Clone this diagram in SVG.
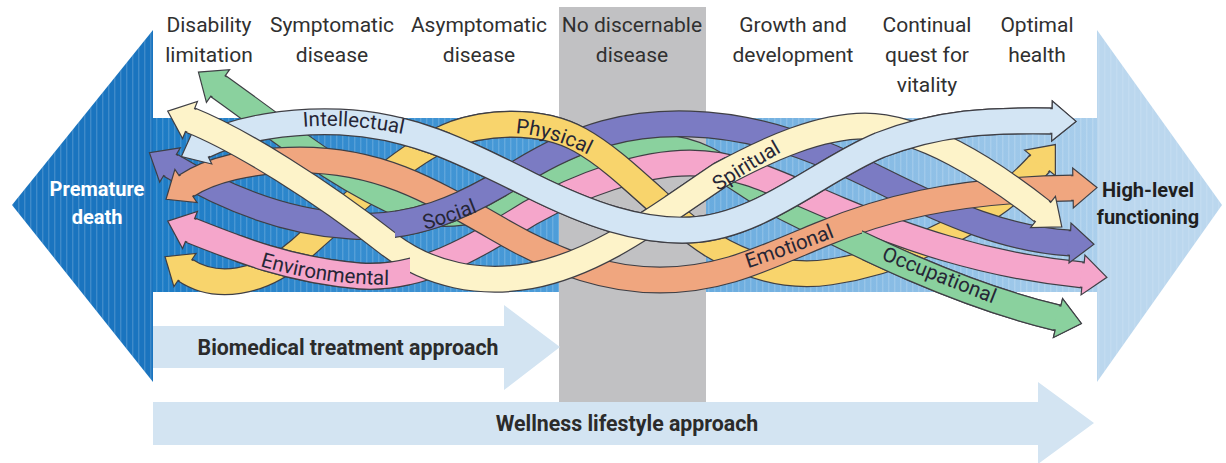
<svg xmlns="http://www.w3.org/2000/svg" xmlns:xlink="http://www.w3.org/1999/xlink" width="1226" height="463" viewBox="0 0 1226 463">
<style>
.stage{font-family:Roboto,"Liberation Sans",sans-serif;font-size:21px;fill:#303030;text-anchor:middle}
.endl{font-family:Roboto,"Liberation Sans",sans-serif;font-size:20px;font-weight:bold;text-anchor:middle}
.appr{font-family:Roboto,"Liberation Sans",sans-serif;font-size:21.3px;font-weight:bold;fill:#2b2b2b;text-anchor:middle}
.rl{font-family:Roboto,"Liberation Sans",sans-serif;font-size:20.5px;fill:#262636;text-anchor:middle}
.ol{fill:none;stroke:#3f3f45;stroke-width:27}
.fl{fill:none;stroke-width:24.6}
.ah{stroke:#3f3f45;stroke-width:1.2;stroke-linejoin:miter}
.apbar{fill:#d3e4f2}
</style>
<defs>
<linearGradient id="bandg" gradientUnits="userSpaceOnUse" x1="153" y1="0" x2="1100" y2="0">
<stop offset="0" stop-color="#1c7bc5"/>
<stop offset="0.4" stop-color="#4a9bd8"/>
<stop offset="0.72" stop-color="#7fb7e3"/>
<stop offset="1" stop-color="#abcfec"/>
</linearGradient>
<pattern id="stripes" patternUnits="userSpaceOnUse" width="6" height="10">
<rect x="0" y="0" width="1.4" height="10" fill="#ffffff" fill-opacity="0.16"/>
</pattern>
<marker id="mk-y" markerUnits="userSpaceOnUse" orient="auto-start-reverse" overflow="visible" markerWidth="1" markerHeight="1"><path class="ah" d="M-2,-12.3 L0,-12.3 L0,-20 L24,0 L0,20 L0,12.3 L-2,12.3" fill="#f8d46c"/></marker>
<marker id="mk-g" markerUnits="userSpaceOnUse" orient="auto-start-reverse" overflow="visible" markerWidth="1" markerHeight="1"><path class="ah" d="M-2,-12.3 L0,-12.3 L0,-20 L24,0 L0,20 L0,12.3 L-2,12.3" fill="#8ad19e"/></marker>
<marker id="mk-p" markerUnits="userSpaceOnUse" orient="auto-start-reverse" overflow="visible" markerWidth="1" markerHeight="1"><path class="ah" d="M-2,-12.3 L0,-12.3 L0,-20 L24,0 L0,20 L0,12.3 L-2,12.3" fill="#7b7bc3"/></marker>
<marker id="mk-o" markerUnits="userSpaceOnUse" orient="auto-start-reverse" overflow="visible" markerWidth="1" markerHeight="1"><path class="ah" d="M-2,-12.3 L0,-12.3 L0,-20 L24,0 L0,20 L0,12.3 L-2,12.3" fill="#f0a67f"/></marker>
<marker id="mk-k" markerUnits="userSpaceOnUse" orient="auto-start-reverse" overflow="visible" markerWidth="1" markerHeight="1"><path class="ah" d="M-2,-12.3 L0,-12.3 L0,-20 L24,0 L0,20 L0,12.3 L-2,12.3" fill="#f5a6cb"/></marker>
<marker id="mk-c" markerUnits="userSpaceOnUse" orient="auto-start-reverse" overflow="visible" markerWidth="1" markerHeight="1"><path class="ah" d="M-2,-12.3 L0,-12.3 L0,-20 L24,0 L0,20 L0,12.3 L-2,12.3" fill="#fdf3c9"/></marker>
<marker id="mk-b" markerUnits="userSpaceOnUse" orient="auto-start-reverse" overflow="visible" markerWidth="1" markerHeight="1"><path class="ah" d="M-2,-12.3 L0,-12.3 L0,-20 L24,0 L0,20 L0,12.3 L-2,12.3" fill="#d3e5f4"/></marker>
<clipPath id="c-phys"><rect x="450" y="95" width="215" height="150"/></clipPath>
<clipPath id="c-cream"><rect x="615" y="140" width="110" height="100"/></clipPath>
<clipPath id="c-soc"><rect x="395" y="178" width="112" height="70"/></clipPath>
<clipPath id="c-env"><rect x="235" y="235" width="175" height="65"/></clipPath>
<clipPath id="c-occ"><rect x="862" y="228" width="230" height="115"/></clipPath>
<clipPath id="c-int"><rect x="400" y="0" width="826" height="463"/></clipPath>
<path id="lp-int" d="M 290,128 Q 350,121 416,137"/>
<path id="lp-phys" d="M 500,133 Q 548,131 602,162"/>
<path id="lp-soc" d="M 408,234 Q 450,224 494,205"/>
<path id="lp-spi" d="M 703,202 Q 745,172 798,143"/>
<path id="lp-emo" d="M 736,272 Q 790,255 847,232"/>
<path id="lp-env" d="M 248,262 Q 318,286 402,285"/>
<path id="lp-occ" d="M 870,255 Q 930,279 1004,308"/>
</defs>

<g id="continuum">
<polygon points="153,30 12,205 153,382" fill="#1a74bf"/>
<rect x="153" y="118" width="945" height="174" fill="url(#bandg)"/>
<polygon points="1097,30 1222,205 1097,382" fill="#bbd7ee"/>
<polygon points="153,30 12,205 153,382" fill="url(#stripes)"/>
<rect x="153" y="118" width="945" height="174" fill="url(#stripes)"/>
<polygon points="1097,30 1222,205 1097,382" fill="url(#stripes)" opacity="0.6"/>
</g>

<rect id="no-disease-bar" x="559" y="7" width="147" height="395" fill="#c1c1c3"/>

<g id="biomedical-approach">
<polygon class="apbar" points="153,326 504,326 504,305 560,347 504,390 504,368 153,368"/>
<text class="appr" x="348" y="355">Biomedical treatment approach</text>
</g>
<g id="wellness-approach">
<polygon class="apbar" points="153,402 1038,402 1038,382 1094,423 1038,464 1038,445 153,445"/>
<text class="appr" x="627" y="431">Wellness lifestyle approach</text>
</g>

<g id="stage-labels">
<g id="stage-disability"><text class="stage" x="209" y="32">Disability</text><text class="stage" x="209" y="62">limitation</text></g>
<g id="stage-symptomatic"><text class="stage" x="332" y="32">Symptomatic</text><text class="stage" x="332" y="62">disease</text></g>
<g id="stage-asymptomatic"><text class="stage" x="479" y="32">Asymptomatic</text><text class="stage" x="479" y="62">disease</text></g>
<g id="stage-none"><text class="stage" x="632" y="32">No discernable</text><text class="stage" x="632" y="62">disease</text></g>
<g id="stage-growth"><text class="stage" x="793" y="32">Growth and</text><text class="stage" x="793" y="62">development</text></g>
<g id="stage-vitality"><text class="stage" x="927" y="32">Continual</text><text class="stage" x="927" y="62">quest for</text><text class="stage" x="927" y="92">vitality</text></g>
<g id="stage-optimal"><text class="stage" x="1037" y="32">Optimal</text><text class="stage" x="1037" y="62">health</text></g>
</g>

<g id="connectors">
<g id="rib-physical">
<path class="ol" d="M 185,270 C 215,290 260,285 300,250 C 350,205 400,160 440,140 C 480,120 540,118 580,140 C 625,165 665,215 712,245 C 750,268 790,278 830,272 C 900,262 960,230 1000,200 C 1015,188 1030,175 1040,163"/>
<path class="fl" stroke="#f8d46c" marker-start="url(#mk-y)" marker-end="url(#mk-y)" d="M 185,270 C 215,290 260,285 300,250 C 350,205 400,160 440,140 C 480,120 540,118 580,140 C 625,165 665,215 712,245 C 750,268 790,278 830,272 C 900,262 960,230 1000,200 C 1015,188 1030,175 1040,163"/>
</g>
<g id="rib-occupational">
<path class="ol" d="M 218,86 C 280,130 340,180 410,208 C 460,225 510,200 560,178 C 600,160 630,147 665,148 C 710,150 740,185 790,210 C 860,245 960,295 1058,318"/>
<path class="fl" stroke="#8ad19e" marker-start="url(#mk-g)" marker-end="url(#mk-g)" d="M 218,86 C 280,130 340,180 410,208 C 460,225 510,200 560,178 C 600,160 630,147 665,148 C 710,150 740,185 790,210 C 860,245 960,295 1058,318"/>
</g>
<g id="rib-environmental">
<path class="ol" d="M 190,230 C 240,250 290,270 360,276 C 420,280 470,250 530,213 C 580,185 640,163 690,163 C 740,163 780,185 840,210 C 900,235 980,265 1083,275"/>
<path class="fl" stroke="#f5a6cb" marker-start="url(#mk-k)" marker-end="url(#mk-k)" d="M 190,230 C 240,250 290,270 360,276 C 420,280 470,250 530,213 C 580,185 640,163 690,163 C 740,163 780,185 840,210 C 900,235 980,265 1083,275"/>
</g>
<g id="rib-social">
<path class="ol" d="M 170,165 C 220,195 280,222 350,226 C 410,230 460,210 520,172 C 580,135 630,122 690,124 C 760,126 820,150 880,180 C 950,215 1010,240 1070,243"/>
<path class="fl" stroke="#7b7bc3" marker-start="url(#mk-p)" marker-end="url(#mk-p)" d="M 170,165 C 220,195 280,222 350,226 C 410,230 460,210 520,172 C 580,135 630,122 690,124 C 760,126 820,150 880,180 C 950,215 1010,240 1070,243"/>
</g>
<g id="rib-emotional">
<path class="ol" d="M 186,186 C 210,170 250,160 300,160 C 380,160 430,190 500,230 C 560,265 610,280 660,280 C 720,280 760,260 820,235 C 880,210 950,190 1073,188"/>
<path class="fl" stroke="#f0a67f" marker-start="url(#mk-o)" marker-end="url(#mk-o)" d="M 186,186 C 210,170 250,160 300,160 C 380,160 430,190 500,230 C 560,265 610,280 660,280 C 720,280 760,260 820,235 C 880,210 950,190 1073,188"/>
</g>
<g id="rib-intellectual">
<path class="ol" d="M 203,146 C 240,128 290,120 340,122 C 410,125 460,150 530,185 C 590,215 640,232 690,230 C 760,227 820,170 880,145 C 940,122 990,120 1052,121"/>
<path class="fl" stroke="#d3e5f4" marker-start="url(#mk-b)" marker-end="url(#mk-b)" d="M 203,146 C 240,128 290,120 340,122 C 410,125 460,150 530,185 C 590,215 640,232 690,230 C 760,227 820,170 880,145 C 940,122 990,120 1052,121"/>
</g>
<g id="rib-spiritual">
<path class="ol" d="M 190,120 C 240,140 320,190 390,245 C 430,275 480,285 530,276 C 600,263 660,215 720,175 C 770,148 820,126 865,126 C 920,126 990,170 1043,212"/>
<path class="fl" stroke="#fdf3c9" marker-start="url(#mk-c)" marker-end="url(#mk-c)" d="M 190,120 C 240,140 320,190 390,245 C 430,275 480,285 530,276 C 600,263 660,215 720,175 C 770,148 820,126 865,126 C 920,126 990,170 1043,212"/>
</g>
<use href="#rib-physical" xlink:href="#rib-physical" clip-path="url(#c-phys)"/>
<use href="#rib-spiritual" xlink:href="#rib-spiritual" clip-path="url(#c-cream)"/>
<use href="#rib-social" xlink:href="#rib-social" clip-path="url(#c-soc)"/>
<use href="#rib-environmental" xlink:href="#rib-environmental" clip-path="url(#c-env)"/>
<use href="#rib-occupational" xlink:href="#rib-occupational" clip-path="url(#c-occ)"/>
<use href="#rib-intellectual" xlink:href="#rib-intellectual" clip-path="url(#c-int)"/>
</g>

<g id="ribbon-labels">
<text class="rl"><textPath href="#lp-int" xlink:href="#lp-int" startOffset="50%">Intellectual</textPath></text>
<text class="rl"><textPath href="#lp-phys" xlink:href="#lp-phys" startOffset="50%">Physical</textPath></text>
<text class="rl"><textPath href="#lp-soc" xlink:href="#lp-soc" startOffset="50%">Social</textPath></text>
<text class="rl"><textPath href="#lp-spi" xlink:href="#lp-spi" startOffset="50%">Spiritual</textPath></text>
<text class="rl"><textPath href="#lp-emo" xlink:href="#lp-emo" startOffset="50%">Emotional</textPath></text>
<text class="rl"><textPath href="#lp-env" xlink:href="#lp-env" startOffset="50%">Environmental</textPath></text>
<text class="rl"><textPath href="#lp-occ" xlink:href="#lp-occ" startOffset="50%">Occupational</textPath></text>
</g>

<g id="premature-death">
<text class="endl" x="97" y="196" fill="#ffffff">Premature</text>
<text class="endl" x="97" y="224" fill="#ffffff">death</text>
</g>
<g id="high-level-functioning">
<text class="endl" x="1148" y="197" fill="#1f1f1f">High-level</text>
<text class="endl" x="1148" y="224" fill="#1f1f1f">functioning</text>
</g>
</svg>
